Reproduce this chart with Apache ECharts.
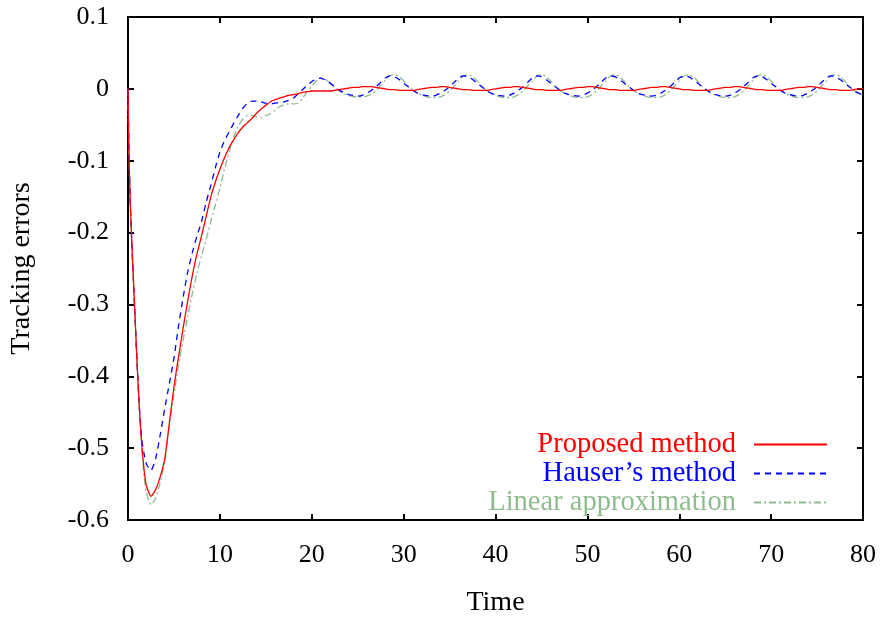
<!DOCTYPE html>
<html><head><meta charset="utf-8">
<script src="https://cdn.jsdelivr.net/npm/echarts@6/dist/echarts.min.js"></script>
<style>html,body{margin:0;padding:0;background:#fff}#c{width:882px;height:622px}</style>
</head><body><div id="c"></div><script>
const time = [0,0.1,0.25,0.5,0.75,1,1.25,1.5,1.75,2,
2.5,3,3.5,4,4.5,5,5.5,6,6.5,7,7.5,8,8.5,9,9.5,10,
10.5,11,11.5,12,12.5,13,13.5,14,14.5,15,15.5,16,16.5,17,17.5,18,18.5,19,19.5,20,
20.5,21,21.5,22,22.5,23,23.5,24,24.5,25,25.5,26,26.5,27,27.5,28,28.5,29,29.5,30,
30.5,31,31.5,32,32.5,33,33.5,34,34.5,35,35.5,36,36.5,37,37.5,38,38.5,39,39.5,40,
40.5,41,41.5,42,42.5,43,43.5,44,44.5,45,45.5,46,46.5,47,47.5,48,48.5,49,49.5,50,
50.5,51,51.5,52,52.5,53,53.5,54,54.5,55,55.5,56,56.5,57,57.5,58,58.5,59,59.5,60,
60.5,61,61.5,62,62.5,63,63.5,64,64.5,65,65.5,66,66.5,67,67.5,68,68.5,69,69.5,70,
70.5,71,71.5,72,72.5,73,73.5,74,74.5,75,75.5,76,76.5,77,77.5,78,78.5,79,79.5,80];

const proposed = [0,-0.085,-0.16,-0.24,-0.312,-0.385,-0.447,-0.495,-0.53,-0.552,
-0.567,-0.558,-0.54,-0.515,-0.465,-0.415,-0.373,-0.333,-0.295,-0.26,-0.23,-0.205,-0.178,-0.151,-0.13,-0.112,
-0.096,-0.082,-0.071,-0.061,-0.053,-0.047,-0.041,-0.034,-0.028,-0.023,-0.018,-0.015,-0.013,-0.011,-0.009,-0.008,-0.007,-0.005,-0.004,-0.003,
-0.003,-0.003,-0.003,-0.003,-0.002,-0.001,0,0.001,0.002,0.002,0.003,0.003,0.003,0.002,0.001,0,-0.001,-0.001,-0.002,-0.002,
-0.002,-0.002,-0.001,0,0.001,0.002,0.002,0.003,0.003,0.002,0.001,0,-0.001,-0.001,-0.002,-0.002,-0.002,-0.002,-0.001,0,
0.001,0.002,0.002,0.003,0.003,0.002,0.001,0,-0.001,-0.001,-0.002,-0.002,-0.002,-0.002,-0.001,0,0.001,0.002,0.002,0.003,
0.003,0.002,0.001,0,-0.001,-0.001,-0.002,-0.002,-0.002,-0.002,-0.001,0,0.001,0.002,0.002,0.003,0.003,0.002,0.001,0,
-0.001,-0.001,-0.002,-0.002,-0.002,-0.002,-0.001,0,0.001,0.002,0.002,0.003,0.003,0.002,0.001,0,-0.001,-0.001,-0.002,-0.002,
-0.002,-0.002,-0.001,0,0.001,0.002,0.002,0.003,0.003,0.002,0.001,0,-0.001,-0.001,-0.002,-0.002,-0.002,-0.001,0,0];

const hauser = [0,-0.085,-0.16,-0.24,-0.312,-0.385,-0.445,-0.487,-0.508,-0.522,
-0.531,-0.515,-0.482,-0.445,-0.41,-0.375,-0.33,-0.29,-0.255,-0.228,-0.205,-0.185,-0.158,-0.135,-0.11,-0.088,
-0.072,-0.06,-0.048,-0.037,-0.027,-0.02,-0.017,-0.017,-0.018,-0.02,-0.021,-0.02,-0.019,-0.018,-0.016,-0.013,-0.007,-0.001,0.005,0.01,
0.014,0.015,0.012,0.008,0.003,-0.002,-0.005,-0.008,-0.009,-0.01,-0.009,-0.006,-0.002,0.003,0.009,0.015,0.018,0.017,0.013,0.008,
0.003,-0.002,-0.006,-0.008,-0.0095,-0.01,-0.009,-0.006,-0.002,0.003,0.009,0.015,0.018,0.017,0.013,0.008,0.003,-0.002,-0.006,-0.008,
-0.0095,-0.01,-0.009,-0.006,-0.002,0.003,0.009,0.015,0.018,0.017,0.013,0.008,0.003,-0.002,-0.006,-0.008,-0.0095,-0.01,-0.009,-0.006,
-0.002,0.003,0.009,0.015,0.018,0.017,0.013,0.008,0.003,-0.002,-0.006,-0.008,-0.0095,-0.01,-0.009,-0.006,-0.002,0.003,0.009,0.015,
0.018,0.017,0.013,0.008,0.003,-0.002,-0.006,-0.008,-0.0095,-0.01,-0.009,-0.006,-0.002,0.003,0.009,0.015,0.018,0.017,0.013,0.008,
0.003,-0.002,-0.006,-0.008,-0.0095,-0.01,-0.009,-0.006,-0.002,0.003,0.009,0.015,0.018,0.017,0.013,0.008,0.003,-0.002,-0.006,-0.008];

const linear = [0,-0.085,-0.16,-0.24,-0.312,-0.385,-0.45,-0.5,-0.54,-0.562,
-0.579,-0.57,-0.548,-0.518,-0.47,-0.425,-0.385,-0.35,-0.317,-0.285,-0.257,-0.232,-0.21,-0.185,-0.162,-0.138,
-0.112,-0.088,-0.067,-0.052,-0.042,-0.037,-0.037,-0.039,-0.04,-0.037,-0.035,-0.03,-0.025,-0.022,-0.021,-0.021,-0.02,-0.013,-0.004,0.004,
0.011,0.015,0.013,0.008,0.002,-0.003,-0.007,-0.009,-0.011,-0.011,-0.011,-0.01,-0.007,-0.002,0.005,0.012,0.018,0.02,0.017,0.011,
0.004,-0.002,-0.006,-0.009,-0.011,-0.012,-0.012,-0.011,-0.008,-0.003,0.004,0.011,0.018,0.02,0.017,0.011,0.004,-0.002,-0.006,-0.009,
-0.011,-0.012,-0.012,-0.011,-0.008,-0.003,0.004,0.011,0.018,0.02,0.017,0.011,0.004,-0.002,-0.006,-0.009,-0.011,-0.012,-0.012,-0.011,
-0.008,-0.003,0.004,0.011,0.018,0.02,0.017,0.011,0.004,-0.002,-0.006,-0.009,-0.011,-0.012,-0.012,-0.011,-0.008,-0.003,0.004,0.011,
0.018,0.02,0.017,0.011,0.004,-0.002,-0.006,-0.009,-0.011,-0.012,-0.012,-0.011,-0.008,-0.003,0.004,0.011,0.018,0.02,0.017,0.011,
0.004,-0.002,-0.006,-0.009,-0.011,-0.012,-0.012,-0.011,-0.008,-0.003,0.004,0.011,0.018,0.02,0.017,0.011,0.004,-0.002,-0.006,-0.009];

const seriesNames = ['Proposed method', 'Hauser\u2019s method', 'Linear approximation'];
const seriesColors = ['#ff0000', '#0000ff', '#8fbc8f'];

const FONT = '"Liberation Serif","Times New Roman",serif';
const pairs = v => time.map((t, i) => [t, v[i]]);

const axisCommon = {
  axisLine: { show: true, onZero: false, lineStyle: { color: '#000', width: 2 } },
  axisTick: { show: true, inside: true, length: 6, lineStyle: { color: '#000', width: 2 } },
  splitLine: { show: false }
};

const chart = echarts.init(document.getElementById('c'), null, { renderer: 'canvas' });
chart.setOption({
  animation: false,
  backgroundColor: '#fff',
  grid: { left: 127, right: 19, top: 17, bottom: 95, containLabel: false },
  xAxis: [
    Object.assign({ type: 'value', position: 'bottom', min: 0, max: 80, interval: 10,
      name: 'Time', nameLocation: 'middle', nameGap: 69,
      nameTextStyle: { fontFamily: FONT, fontSize: 28, color: '#000' },
      axisLabel: { fontFamily: FONT, fontSize: 26, color: '#000', margin: 22 } }, axisCommon),
    Object.assign({ type: 'value', position: 'top', min: 0, max: 80, interval: 10,
      axisLabel: { show: false } }, axisCommon)
  ],
  yAxis: [
    Object.assign({ type: 'value', position: 'left', min: -0.6, max: 0.1, interval: 0.1,
      name: 'Tracking errors', nameLocation: 'middle', nameGap: 92,
      nameTextStyle: { fontFamily: FONT, fontSize: 28, color: '#000' },
      axisLabel: { fontFamily: FONT, fontSize: 26, color: '#000', margin: 19, padding: [8, 0, 0, 0] } }, axisCommon),
    Object.assign({ type: 'value', position: 'right', min: -0.6, max: 0.1, interval: 0.1,
      axisLabel: { show: false } }, axisCommon)
  ],
  legend: {
    orient: 'vertical', align: 'right', right: 54, top: 430, padding: 0,
    itemWidth: 73, itemHeight: 14, itemGap: 0,
    itemStyle: { color: 'rgba(0,0,0,0)', borderWidth: 0, opacity: 0 },
    textStyle: { fontFamily: FONT, fontSize: 28.5, padding: [0, 13, 0, 0] },
    data: seriesNames.map((n, i) => ({ name: n, textStyle: { color: seriesColors[i] } }))
  },
  series: [
    { name: seriesNames[0], type: 'line', data: pairs(proposed), symbol: 'none', smooth: 0.2, z: 5,
      lineStyle: { color: seriesColors[0], width: 1.3, type: 'solid' }, itemStyle: { color: seriesColors[0] } },
    { name: seriesNames[1], type: 'line', data: pairs(hauser), symbol: 'none', smooth: 0.2, z: 4,
      lineStyle: { color: seriesColors[1], width: 1.3, type: [6, 5] }, itemStyle: { color: seriesColors[1] } },
    { name: seriesNames[2], type: 'line', data: pairs(linear), symbol: 'none', smooth: 0.2, z: 3,
      lineStyle: { color: seriesColors[2], width: 1.3, type: [7, 3, 2, 3] }, itemStyle: { color: seriesColors[2] } }
  ]
});
</script></body></html>
